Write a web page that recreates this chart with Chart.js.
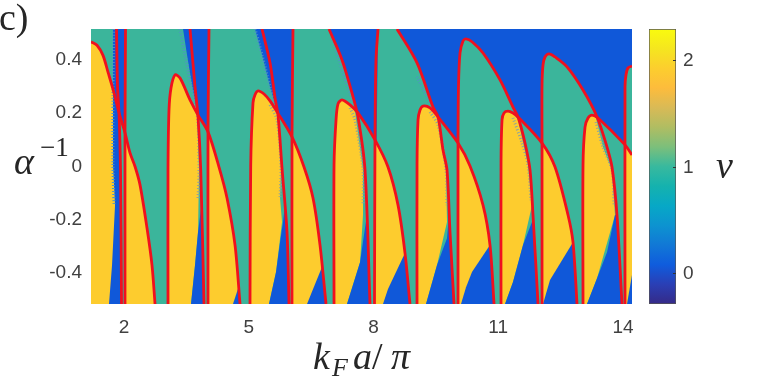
<!DOCTYPE html>
<html>
<head>
<meta charset="utf-8">
<script src="https://cdn.jsdelivr.net/npm/chart.js@4"></script>
<style>
  body { margin: 0; background: #fff; width: 769px; height: 385px; overflow: hidden; position: relative; }
  canvas { position: absolute; top: 0; }
  .math { position: absolute; font-family: "Liberation Serif", serif; color: #262626; line-height: 1; white-space: nowrap; }
  .math i { font-style: italic; }
</style>
</head>
<body>
<canvas id="phaseChart" width="640" height="385" style="left:0"></canvas>
<canvas id="barChart" width="129" height="385" style="left:640px"></canvas>

<div class="math" style="left:-1px;top:-2px;font-size:38px">c)</div>
<div class="math" style="left:14px;top:142px;font-size:38px"><i>α</i></div>
<div class="math" style="left:40px;top:134px;font-size:27px">−1</div>
<div class="math" style="left:313px;top:337px;font-size:38px"><i>k</i></div>
<div class="math" style="left:332px;top:355px;font-size:26px"><i>F</i></div>
<div class="math" style="left:353px;top:337px;font-size:38px"><i>a</i></div>
<div class="math" style="left:372px;top:337px;font-size:38px">/</div>
<div class="math" style="left:391px;top:337px;font-size:38px"><i>π</i></div>
<div class="math" style="left:716px;top:146px;font-size:38px"><i>ν</i></div>

<script>
// axis ranges and tick labels
const xRange = [1.206, 14.217];
const yRange = [-0.516, 0.516];
const xTicks = [2, 5, 8, 11, 14];
const yTicks = [-0.4, -0.2, 0, 0.2, 0.4];
const barTicks = [0, 1, 2];
const barRange = [-0.282, 2.300];

// colours of the nu = 0, 1, 2 phases
const blue = '#1058d9';
const teal = '#3bb59b';
const yellow = '#fdcc2e';
const red = '#f0101e';

// parula colormap for the colorbar, bottom to top
const barColors = ['#352a87', '#2a3fb5', '#0f5cdd', '#1178d6', '#0d93d0', '#07a8c6', '#15b2ae', '#38b99e',
  '#7cbf7b', '#b0bd62', '#d9ba56', '#fdbc3c', '#fcce2e', '#f5e61f', '#f9fb0e'];

// dome shaped red curves as [kFa/pi, 1/alpha]
const curveA1 = [[1.206,.468],[1.350,.455],[1.495,.417],[1.615,.354],[1.735,.290],[1.880,.201],[2.024,.126],[2.144,.051],[2.265,0],[2.385,-.069],[2.553,-.231],[2.673,-.370],[2.746,-.516]];
const curveA2 = [[3.058,-.516],[3.058,-.013],[3.082,.212],[3.130,.295],[3.227,.344],[3.347,.332],[3.587,.250],[3.780,.193],[4.020,.130],[4.285,-.002],[4.477,-.118],[4.670,-.295],[4.790,-.516]];
const curveA3 = [[5.030,-.516],[5.047,.006],[5.102,.239],[5.151,.269],[5.223,.284],[5.367,.272],[5.511,.246],[5.680,.205],[6.040,.111],[6.329,-.002],[6.545,-.118],[6.714,-.295],[6.858,-.516]];
const curveA4 = [[7.051,-.516],[7.051,.006],[7.099,.175],[7.147,.235],[7.243,.250],[7.435,.231],[7.628,.201],[8.036,.100],[8.349,-.002],[8.590,-.145],[8.758,-.325],[8.878,-.516]];
const curveA5 = [[9.047,-.516],[9.047,.006],[9.071,.175],[9.119,.212],[9.191,.227],[9.359,.220],[9.552,.186],[10.033,.088],[10.321,.002],[10.634,-.145],[10.802,-.295],[10.899,-.516]];
const curveA6 = [[11.067,-.516],[11.067,.006],[11.091,.175],[11.139,.201],[11.235,.208],[11.355,.201],[11.476,.186],[12.053,.088],[12.366,-.002],[12.678,-.182],[12.798,-.284],[12.895,-.516]];
const curveA7 = [[13.039,-.516],[13.039,.006],[13.087,.148],[13.159,.182],[13.255,.193],[13.400,.182],[14.049,.081],[14.217,.043]];

// nearly vertical red curves
const v1 = [[1.820,.516],[1.844,.299],[1.880,.201],[1.916,-.013],[1.940,-.516]];
const v2 = [[2.036,.516],[2.024,.137],[2.024,-.516]];
const v3 = [[3.587,.516],[3.708,.299],[3.780,.186],[3.845,-.013],[3.924,-.516]];
const v4 = [[4.044,.516],[4.020,.137],[4.020,-.516]];
const v5 = [[5.319,.516],[5.511,.389],[5.632,.257],[5.704,.193],[5.800,-.006],[5.920,-.246],[5.968,-.516]];
const v6 = [[6.064,.516],[6.040,.111],[6.040,-.516]];
const v7 = [[6.930,.516],[7.243,.400],[7.483,.276],[7.628,.186],[7.796,-.013],[7.916,-.516]];
const v8 = [[8.109,.516],[8.060,.400],[8.036,.100],[8.024,-.516]];
const v9 = [[8.566,.516],[9.047,.389],[9.431,.223],[9.552,.186],[9.672,.062],[9.768,-.013],[9.840,-.246],[9.937,-.516]];
const env1 = [[10.033,-.516],[10.033,.088],[10.045,.306],[10.081,.426],[10.153,.471],[10.225,.479],[10.369,.468],[10.634,.426],[11.043,.325],[11.355,.223],[11.476,.186],[11.644,.088],[11.764,-.013],[11.836,-.182],[11.957,-.516]];
const env2 = [[12.053,-.516],[12.053,.088],[12.053,.306],[12.077,.381],[12.125,.411],[12.221,.423],[12.366,.411],[12.654,.374],[13.039,.287],[13.376,.186],[13.616,.073],[13.736,-.002],[13.856,-.182],[13.977,-.516]];
const env3 = [[14.049,-.516],[14.049,.299],[14.073,.344],[14.121,.370],[14.217,.377]];

// nu = 1 regions
const tealRegions = [
  [[1.206,.516],[1.735,.516],[1.735,.250],[1.206,.250]],
  [[1.880,.201],[2.024,.126],[2.024,-.516],[1.940,-.516],[1.916,-.013]],
  [[2.036,.516],[3.419,.516],[3.515,.419],[3.635,.306],[3.756,.205],[3.845,-.013],[3.924,-.516],[2.024,-.516]],
  [[3.780,.193],[4.020,.130],[4.020,-.516],[3.924,-.516],[3.845,-.013]],
  [[4.044,.516],[5.151,.516],[5.319,.419],[5.511,.299],[5.680,.205],[5.800,-.006],[5.920,-.246],[5.968,-.516],[4.020,-.516]],
  [[5.680,.205],[6.040,.111],[6.040,-.516],[5.968,-.516],[5.800,-.006]],
  [...v7, [6.040,-.516], [6.064,.516]],
  [[7.628,.201],[8.036,.100],[8.024,-.516],[7.916,-.516],[7.796,-.013]],
  [...v9, [8.024,-.516], [8.109,.516]],
  [[9.552,.186],[10.033,.088],[10.033,-.516],[9.937,-.516],[9.768,-.013]],
  env1,
  [[11.476,.186],[12.053,.088],[12.053,-.516],[11.957,-.516],[11.764,-.013]],
  env2,
  [[13.376,.186],[14.049,.081],[14.049,-.516],[13.977,-.516],[13.736,-.002]],
  [...env3, [14.217,-.516]]
];

// nu = 2 regions
const yellowRegions = [
  [...curveA1.slice(0,5), [1.735,.006],[1.784,-.145],[1.712,-.370],[1.639,-.516],[1.206,-.516]],
  [...curveA1.slice(6), [2.024,-.516]],
  [...curveA2.slice(0,7), [3.756,.201],[3.804,-.013],[3.780,-.246],[3.708,-.370],[3.611,-.516]],
  [...curveA2.slice(8), [4.020,-.516]],
  [...curveA3.slice(0,8), [5.776,-.006],[5.752,-.118],[5.800,-.208],[5.656,-.396],[5.487,-.516]],
  [...curveA3.slice(8), [6.040,-.516]],
  [...curveA4.slice(0,6), [7.556,.205],[7.748,-.013],[7.748,-.182],[7.676,-.359],[7.363,-.516]],
  [...curveA4.slice(7), [8.036,-.516]],
  [...curveA5.slice(0,7), [9.744,-.013],[9.768,-.208],[9.528,-.370],[9.263,-.516]],
  [...curveA5.slice(7), [10.033,-.516]],
  [...curveA6.slice(0,6), [11.476,.175],[11.716,.006],[11.812,-.145],[11.596,-.295],[11.355,-.433],[11.163,-.516]],
  [...curveA6.slice(7), [12.053,-.516]],
  [...curveA7.slice(0,5), [13.351,.182],[13.520,.073],[13.736,-.013],[13.808,-.182],[13.376,-.419],[13.135,-.516]],
  [...curveA7.slice(6), [14.217,-.516],[14.049,-.516]]
];

// nu = 0 wedges along the bottom edge
const blueWedges = [
  [[3.611,-.516],[3.708,-.370],[3.780,-.246],[3.864,-.145],[3.924,-.516]],
  [[4.621,-.516],[4.754,-.453],[4.790,-.516]],
  [[5.487,-.516],[5.656,-.396],[5.752,-.284],[5.824,-.208],[5.872,-.145],[5.968,-.516]],
  [[6.401,-.516],[6.762,-.377],[6.858,-.516]],
  [[7.363,-.516],[7.676,-.359],[7.796,-.231],[7.844,-.182],[7.916,-.516]],
  [[8.229,-.516],[8.349,-.460],[8.758,-.325],[8.878,-.516]],
  [[9.263,-.516],[9.528,-.370],[9.768,-.269],[9.816,-.182],[9.937,-.516]],
  [[10.105,-.516],[10.225,-.453],[10.369,-.396],[10.802,-.295],[10.899,-.516]],
  [[11.163,-.516],[11.355,-.433],[11.596,-.295],[11.812,-.208],[11.836,-.182],[11.957,-.516]],
  [[12.077,-.516],[12.245,-.426],[12.798,-.284],[12.895,-.516]],
  [[13.135,-.516],[13.376,-.419],[13.616,-.322],[13.808,-.182],[13.856,-.182],[13.977,-.516]],
  [[14.097,-.516],[14.217,-.407],[14.217,-.516]]
];

// speckled phase boundaries
const noisyBlue = [
  [[1.747,.516],[1.735,.276],[1.735,.006],[1.760,-.145]],
  [[3.347,.516],[3.467,.419],[3.611,.306],[3.708,.250]],
  [[5.151,.516],[5.319,.419],[5.511,.299],[5.656,.220]],
  [[7.027,.475],[7.267,.351],[7.435,.276],[7.580,.205]],
  [[9.047,.336],[9.359,.239]]
];
const noisyEdge = [
  [[3.587,.250],[3.756,.201],[3.804,-.013],[3.780,-.118]],
  [[5.511,.231],[5.680,.175],[5.776,-.006],[5.752,-.118]],
  [[7.435,.220],[7.556,.175],[7.748,-.013],[7.748,-.145]],
  [[9.359,.205],[9.552,.156],[9.744,-.013],[9.768,-.145]],
  [[11.355,.182],[11.572,.088],[11.716,.006],[11.788,-.126]],
  [[13.351,.167],[13.520,.073],[13.736,-.013],[13.784,-.145]]
];

const redCurves = [curveA1, curveA2, curveA3, curveA4, curveA5, curveA6, curveA7,
  v1, v2, v3, v4, v5, v6, v7, v8, v9, env1, env2, env3];

const plotBox = [[xRange[0],yRange[1]],[xRange[1],yRange[1]],[xRange[1],yRange[0]],[xRange[0],yRange[0]]];

function region(points, color) {
  return { data: points, polygonColor: color, showLine: false, pointRadius: 0 };
}
function stroke(points, color, width, dash, tension) {
  return { data: points, showLine: true, borderColor: color, borderWidth: width, borderDash: dash,
    tension: tension, pointRadius: 0, fill: false, clip: 0, borderJoinStyle: 'round' };
}

// Chart.js draws the first dataset on top, so list them bottom up and reverse
const layers = [
  region(plotBox, blue),
  ...tealRegions.map(r => region(r, teal)),
  ...yellowRegions.map(r => region(r, yellow)),
  ...blueWedges.map(r => region(r, blue)),
  ...noisyBlue.map(r => stroke(r, '#4f94c4', 3, [1, 2], 0.3)),
  ...noisyEdge.map(r => stroke(r, '#8aa3a0', 3, [1, 2], 0.3)),
  ...redCurves.map(r => stroke(r, red, 2.8, [], 0.3))
].reverse();

// fills a dataset's points as a closed shape, the points come from the chart's scales
const polygonFill = {
  id: 'polygonFill',
  beforeDatasetDraw(chart, args) {
    const ds = chart.data.datasets[args.index];
    if (!ds.polygonColor) return;
    const ctx = chart.ctx;
    ctx.save();
    ctx.beginPath();
    args.meta.data.forEach((p, i) => {
      if (i === 0) ctx.moveTo(p.x, p.y);
      else ctx.lineTo(p.x, p.y);
    });
    ctx.closePath();
    ctx.fillStyle = ds.polygonColor;
    ctx.fill();
    ctx.restore();
  }
};

const tickFont = { family: '"Liberation Sans", Arial, sans-serif', size: 19 };

new Chart(document.getElementById('phaseChart'), {
  type: 'scatter',
  data: { datasets: layers },
  plugins: [polygonFill],
  options: {
    responsive: false,
    animation: false,
    layout: { padding: { top: 29, right: 8, left: 0, bottom: 0 } },
    plugins: { legend: { display: false }, tooltip: { enabled: false } },
    scales: {
      x: {
        min: xRange[0], max: xRange[1],
        grid: { display: false, drawTicks: false }, border: { display: false },
        ticks: { color: '#404040', font: tickFont, padding: 12, maxRotation: 0, callback: v => String(v) },
        afterBuildTicks: axis => { axis.ticks = xTicks.map(v => ({ value: v })); },
        afterFit: axis => { axis.height = 81; axis.paddingLeft = 0; axis.paddingRight = 0; }
      },
      y: {
        min: yRange[0], max: yRange[1],
        grid: { display: false, drawTicks: false }, border: { display: false },
        ticks: { color: '#404040', font: tickFont, padding: 9, callback: v => String(v) },
        afterBuildTicks: axis => { axis.ticks = yTicks.map(v => ({ value: v })); },
        afterFit: axis => { axis.width = 91; axis.paddingTop = 0; axis.paddingBottom = 0; }
      }
    }
  }
});

new Chart(document.getElementById('barChart'), {
  type: 'bar',
  data: {
    labels: ['nu'],
    datasets: [{
      data: [barRange],
      barPercentage: 1,
      categoryPercentage: 1,
      borderColor: '#555',
      borderWidth: 1,
      borderSkipped: false,
      backgroundColor: ctx => {
        const area = ctx.chart.chartArea;
        if (!area) return barColors[0];
        const g = ctx.chart.ctx.createLinearGradient(0, area.bottom, 0, area.top);
        barColors.forEach((c, i) => g.addColorStop(i / (barColors.length - 1), c));
        return g;
      }
    }]
  },
  options: {
    responsive: false,
    animation: false,
    layout: { padding: { top: 29, left: 9, bottom: 81, right: 0 } },
    plugins: { legend: { display: false }, tooltip: { enabled: false } },
    scales: {
      x: { display: false },
      y: {
        position: 'right',
        min: barRange[0], max: barRange[1],
        grid: { drawOnChartArea: false, tickLength: -3, color: '#333', z: 1 },
        border: { display: false },
        ticks: { color: '#404040', font: tickFont, padding: 10, callback: v => String(v) },
        afterBuildTicks: axis => { axis.ticks = barTicks.map(v => ({ value: v })); },
        afterFit: axis => { axis.width = 93; }
      }
    }
  }
});
</script>
</body>
</html>
